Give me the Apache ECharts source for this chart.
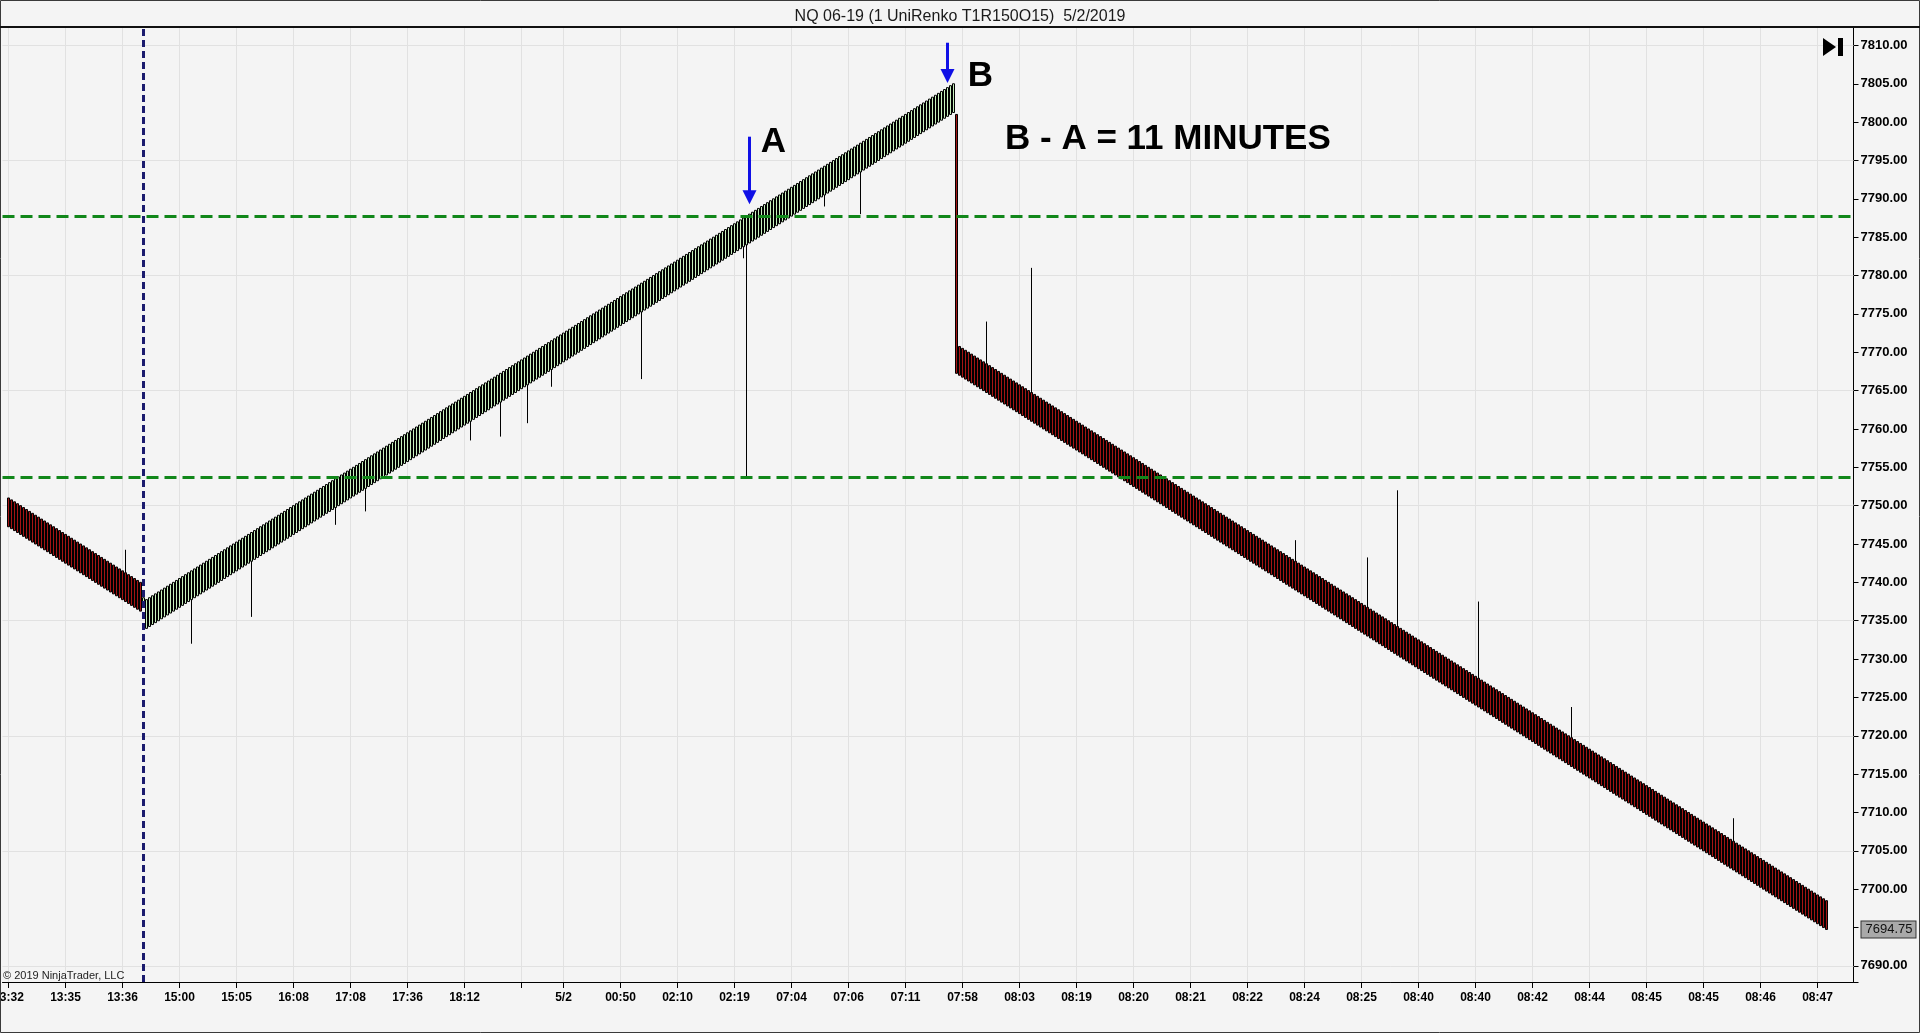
<!DOCTYPE html>
<html><head><meta charset="utf-8">
<script src="https://cdn.jsdelivr.net/npm/echarts@6/dist/echarts.min.js"></script>
<style>html,body{margin:0;padding:0;background:#f4f4f4;}#c{width:1920px;height:1033px;}</style>
</head><body><div id="c"></div>
<script>
// ---------------- DATA ----------------
// closes of the falling bricks before the reversal (bars 0..44)
const seg1Close = [
7747.25,7747,
7746.75,7746.5,7746.25,7746,7745.75,7745.5,7745.25,7745,
7744.75,7744.5,7744.25,7744,7743.75,7743.5,7743.25,7743,
7742.75,7742.5,7742.25,7742,7741.75,7741.5,7741.25,7741,
7740.75,7740.5,7740.25,7740,7739.75,7739.5,7739.25,7739,
7738.75,7738.5,7738.25,7738,7737.75,7737.5,7737.25,7737,
7736.75,7736.5,7736.25
];
// reversal bar (bar 45): open, close
const transBar = [7737.5, 7738];
// closes of the rising bricks (bars 46..315)
const seg2Close = [
7737.75,
7738,7738.25,7738.5,7738.75,7739,7739.25,7739.5,7739.75,
7740,7740.25,7740.5,7740.75,7741,7741.25,7741.5,7741.75,
7742,7742.25,7742.5,7742.75,7743,7743.25,7743.5,7743.75,
7744,7744.25,7744.5,7744.75,7745,7745.25,7745.5,7745.75,
7746,7746.25,7746.5,7746.75,7747,7747.25,7747.5,7747.75,
7748,7748.25,7748.5,7748.75,7749,7749.25,7749.5,7749.75,
7750,7750.25,7750.5,7750.75,7751,7751.25,7751.5,7751.75,
7752,7752.25,7752.5,7752.75,7753,7753.25,7753.5,7753.75,
7754,7754.25,7754.5,7754.75,7755,7755.25,7755.5,7755.75,
7756,7756.25,7756.5,7756.75,7757,7757.25,7757.5,7757.75,
7758,7758.25,7758.5,7758.75,7759,7759.25,7759.5,7759.75,
7760,7760.25,7760.5,7760.75,7761,7761.25,7761.5,7761.75,
7762,7762.25,7762.5,7762.75,7763,7763.25,7763.5,7763.75,
7764,7764.25,7764.5,7764.75,7765,7765.25,7765.5,7765.75,
7766,7766.25,7766.5,7766.75,7767,7767.25,7767.5,7767.75,
7768,7768.25,7768.5,7768.75,7769,7769.25,7769.5,7769.75,
7770,7770.25,7770.5,7770.75,7771,7771.25,7771.5,7771.75,
7772,7772.25,7772.5,7772.75,7773,7773.25,7773.5,7773.75,
7774,7774.25,7774.5,7774.75,7775,7775.25,7775.5,7775.75,
7776,7776.25,7776.5,7776.75,7777,7777.25,7777.5,7777.75,
7778,7778.25,7778.5,7778.75,7779,7779.25,7779.5,7779.75,
7780,7780.25,7780.5,7780.75,7781,7781.25,7781.5,7781.75,
7782,7782.25,7782.5,7782.75,7783,7783.25,7783.5,7783.75,
7784,7784.25,7784.5,7784.75,7785,7785.25,7785.5,7785.75,
7786,7786.25,7786.5,7786.75,7787,7787.25,7787.5,7787.75,
7788,7788.25,7788.5,7788.75,7789,7789.25,7789.5,7789.75,
7790,7790.25,7790.5,7790.75,7791,7791.25,7791.5,7791.75,
7792,7792.25,7792.5,7792.75,7793,7793.25,7793.5,7793.75,
7794,7794.25,7794.5,7794.75,7795,7795.25,7795.5,7795.75,
7796,7796.25,7796.5,7796.75,7797,7797.25,7797.5,7797.75,
7798,7798.25,7798.5,7798.75,7799,7799.25,7799.5,7799.75,
7800,7800.25,7800.5,7800.75,7801,7801.25,7801.5,7801.75,
7802,7802.25,7802.5,7802.75,7803,7803.25,7803.5,7803.75,
7804,7804.25,7804.5,7804.75,
7805
];
// the big reversal drop bar (bar 316): open, close
const dropBar = [7801, 7767.25];
// closes of the falling bricks after B (bars 317..606)
const seg3Close = [
7767,
7766.75,7766.5,7766.25,7766,7765.75,7765.5,7765.25,7765,
7764.75,7764.5,7764.25,7764,7763.75,7763.5,7763.25,7763,
7762.75,7762.5,7762.25,7762,7761.75,7761.5,7761.25,7761,
7760.75,7760.5,7760.25,7760,7759.75,7759.5,7759.25,7759,
7758.75,7758.5,7758.25,7758,7757.75,7757.5,7757.25,7757,
7756.75,7756.5,7756.25,7756,7755.75,7755.5,7755.25,7755,
7754.75,7754.5,7754.25,7754,7753.75,7753.5,7753.25,7753,
7752.75,7752.5,7752.25,7752,7751.75,7751.5,7751.25,7751,
7750.75,7750.5,7750.25,7750,7749.75,7749.5,7749.25,7749,
7748.75,7748.5,7748.25,7748,7747.75,7747.5,7747.25,7747,
7746.75,7746.5,7746.25,7746,7745.75,7745.5,7745.25,7745,
7744.75,7744.5,7744.25,7744,7743.75,7743.5,7743.25,7743,
7742.75,7742.5,7742.25,7742,7741.75,7741.5,7741.25,7741,
7740.75,7740.5,7740.25,7740,7739.75,7739.5,7739.25,7739,
7738.75,7738.5,7738.25,7738,7737.75,7737.5,7737.25,7737,
7736.75,7736.5,7736.25,7736,7735.75,7735.5,7735.25,7735,
7734.75,7734.5,7734.25,7734,7733.75,7733.5,7733.25,7733,
7732.75,7732.5,7732.25,7732,7731.75,7731.5,7731.25,7731,
7730.75,7730.5,7730.25,7730,7729.75,7729.5,7729.25,7729,
7728.75,7728.5,7728.25,7728,7727.75,7727.5,7727.25,7727,
7726.75,7726.5,7726.25,7726,7725.75,7725.5,7725.25,7725,
7724.75,7724.5,7724.25,7724,7723.75,7723.5,7723.25,7723,
7722.75,7722.5,7722.25,7722,7721.75,7721.5,7721.25,7721,
7720.75,7720.5,7720.25,7720,7719.75,7719.5,7719.25,7719,
7718.75,7718.5,7718.25,7718,7717.75,7717.5,7717.25,7717,
7716.75,7716.5,7716.25,7716,7715.75,7715.5,7715.25,7715,
7714.75,7714.5,7714.25,7714,7713.75,7713.5,7713.25,7713,
7712.75,7712.5,7712.25,7712,7711.75,7711.5,7711.25,7711,
7710.75,7710.5,7710.25,7710,7709.75,7709.5,7709.25,7709,
7708.75,7708.5,7708.25,7708,7707.75,7707.5,7707.25,7707,
7706.75,7706.5,7706.25,7706,7705.75,7705.5,7705.25,7705,
7704.75,7704.5,7704.25,7704,7703.75,7703.5,7703.25,7703,
7702.75,7702.5,7702.25,7702,7701.75,7701.5,7701.25,7701,
7700.75,7700.5,7700.25,7700,7699.75,7699.5,7699.25,7699,
7698.75,7698.5,7698.25,7698,7697.75,7697.5,7697.25,7697,
7696.75,7696.5,7696.25,7696,7695.75,7695.5,7695.25,7695,
7694.75
];
// UniRenko open offset (O15 = 15 ticks of 0.25)
const openOffset = 3.75;
// wicks
const upperWickBars  = [39, 326, 341, 429, 453, 463, 490, 521, 575];
const upperWickHighs = [7744.25, 7774, 7781, 7745.5, 7743.25, 7752, 7737.5, 7723.75, 7709.25];
const lowerWickBars  = [61, 81, 109, 119, 154, 164, 173, 181, 211, 245, 246, 272, 284];
const lowerWickLows  = [7732, 7735.5, 7747.5, 7749.25, 7758.5, 7759, 7760.75, 7765.5, 7766.5, 7782.25, 7753.75, 7789, 7788];
// time axis ticks (bar index -> label)
const tickBars = [0,19,38,57,76,95,114,133,152,171,185,204,223,242,261,280,299,318,337,356,375,394,413,432,451,470,489,508,527,546,565,584,603];
const tickLabels = ['13:32','13:35','13:36','15:00','15:05','16:08','17:08','17:36','18:12','','5/2','00:50','02:10','02:19','07:04','07:06','07:11','07:58','08:03','08:19','08:20','08:21','08:22','08:24','08:25','08:40','08:40','08:42','08:44','08:45','08:45','08:46','08:47'];
// horizontal grid levels
const hGridLevels = [7690, 7705, 7720, 7735, 7750, 7765, 7780, 7795, 7810];
const zoneLevels = [7787.75, 7753.75];
const lastPrice = 7694.75;
const markerBar = 45;          // dashed vertical line
const arrowA = {bar: 247, from: 7798.1, to: 7790.2};
const arrowB = {bar: 313, from: 7810.35, to: 7806.0};
const textA = {bar: 255, price: 7797.3, text: 'A'};
const textB = {bar: 324, price: 7806.0, text: 'B'};
const textBA = {bar: 332, price: 7797.7, text: 'B - A = 11 MINUTES'};

// ---------------- BUILD ----------------
const LEAD = 2, NCAT = 618;
const cats = Array.from({length: NCAT}, (_, i) => String(i));
const cat = b => String(b + LEAD);
const oc = [];
seg1Close.forEach(c => oc.push([c + openOffset, c]));
oc.push(transBar);
seg2Close.forEach(c => oc.push([c - openOffset, c]));
oc.push(dropBar);
seg3Close.forEach(c => oc.push([c + openOffset, c]));
const lows = oc.map(v => Math.min(v[0], v[1]));
const highs = oc.map(v => Math.max(v[0], v[1]));
upperWickBars.forEach((b, i) => { highs[b] = upperWickHighs[i]; });
lowerWickBars.forEach((b, i) => { lows[b] = lowerWickLows[i]; });
const candles = oc.map((v, b) => [b + LEAD, v[0], v[1], lows[b], highs[b]]);
const tickMap = {};
tickBars.forEach((b, i) => { tickMap[b + LEAD] = tickLabels[i]; });
const isTick = i => Object.prototype.hasOwnProperty.call(tickMap, i);

const SANS = "'Liberation Sans', Arial, sans-serif";

const chart = echarts.init(document.getElementById('c'), null, {renderer: 'canvas'});
chart.setOption({
  backgroundColor: '#f4f4f4',
  animation: false,
  title: {
    text: 'NQ 06-19 (1 UniRenko T1R150O15)  5/2/2019',
    left: 955, textAlign: 'center', top: 4,
    textStyle: {fontFamily: SANS, fontSize: 16, fontWeight: 'normal', color: '#1a1a1a'}
  },
  grid: {left: 2.5, top: 27, width: 1851, height: 955, containLabel: false, outerBoundsMode: 'none'},
  xAxis: {
    type: 'category', data: cats, boundaryGap: false,
    axisLine: {lineStyle: {color: '#000', width: 1}},
    axisTick: {interval: isTick, length: 6, lineStyle: {color: '#000'}},
    axisLabel: {
      interval: isTick, formatter: (v) => tickMap[+v] || '',
      hideOverlap: false,
      fontFamily: SANS, fontWeight: 'bold', fontSize: 12, color: '#000', margin: 10
    },
    splitLine: {show: true, interval: isTick, lineStyle: {color: '#e1e1e1', width: 1}}
  },
  yAxis: {
    type: 'value', position: 'right', min: 7687.9, max: 7812.4,
    minInterval: 5, maxInterval: 5,
    axisLine: {show: true, lineStyle: {color: '#000', width: 1}},
    axisTick: {show: true, length: 5, lineStyle: {color: '#000'}},
    axisLabel: {
      formatter: v => (Math.abs(v / 5 - Math.round(v / 5)) < 1e-6 && Math.abs(v - lastPrice) > 2 ? v.toFixed(2) : ''),
      fontFamily: SANS, fontWeight: 'bold', fontSize: 13, color: '#000', margin: 7
    },
    splitLine: {show: false}
  },
  graphic: [
    {type: 'rect', silent: true, z: 100, shape: {x: 0.5, y: 0.5, width: 1919, height: 1032}, style: {fill: 'none', stroke: '#3a3a3a', lineWidth: 1}},
    {type: 'line', silent: true, z: 100, shape: {x1: 0, y1: 27, x2: 1920, y2: 27}, style: {stroke: '#111', lineWidth: 2}},
    {type: 'polygon', silent: true, z: 100, shape: {points: [[1823, 38], [1836, 47], [1823, 56]]}, style: {fill: '#000'}},
    {type: 'rect', silent: true, z: 100, shape: {x: 1838, y: 38, width: 5, height: 18}, style: {fill: '#000'}},
    {type: 'text', silent: true, z: 100, left: 3, top: 970, style: {text: '\u00a9 2019 NinjaTrader, LLC', font: "11px " + SANS, fill: '#222'}}
  ],
  series: [
    {
      type: 'line', data: [], silent: true, z: 1,
      markLine: {
        silent: true, symbol: ['none', 'none'], z: 1, label: {show: false},
        lineStyle: {color: '#e1e1e1', width: 1, type: 'solid'},
        data: hGridLevels.map(v => ({yAxis: v}))
      }
    },
    {
      type: 'line', data: [], silent: true, z: 6,
      markLine: {
        silent: true, z: 6, animation: false, symbol: ['none', 'none'],
        lineStyle: {width: 0, color: '#a9a9a9', type: 'solid'},
        label: {show: true, position: 'end', distance: 8, formatter: lastPrice.toFixed(2),
                backgroundColor: '#a9a9a9', borderColor: '#333', borderWidth: 1, padding: [2, 3, 1, 4],
                color: '#111', fontFamily: SANS, fontSize: 13},
        data: [{yAxis: lastPrice}]
      }
    },
    {
      type: 'candlestick', z: 3, large: false, silent: true, barWidth: 2,
      encode: {x: 0, y: [1, 2, 3, 4]},
      data: candles,
      itemStyle: {color: '#c8f0be', color0: '#a41414', borderColor: '#000', borderColor0: '#000', borderColorDoji: '#000', borderWidth: 1},
      emphasis: {disabled: true},
      markLine: {
        silent: true, symbol: ['none', 'none'], z: 5, animation: false,
        label: {show: false},
        data: [
          ...zoneLevels.map(v => ({yAxis: v, lineStyle: {color: '#11871a', width: 3, type: [12, 6]}})),
          {xAxis: cat(markerBar), lineStyle: {color: '#1b1b6e', width: 3, type: [7, 4]}},
          [
            {coord: [cat(arrowA.bar), arrowA.from], symbol: 'none', lineStyle: {color: '#1010e6', width: 3, type: 'solid'}},
            {coord: [cat(arrowA.bar), arrowA.to], symbol: 'triangle', symbolSize: 14, lineStyle: {color: '#1010e6', width: 3, type: 'solid'}}
          ],
          [
            {coord: [cat(arrowB.bar), arrowB.from], symbol: 'none', lineStyle: {color: '#1010e6', width: 3, type: 'solid'}},
            {coord: [cat(arrowB.bar), arrowB.to], symbol: 'triangle', symbolSize: 14, lineStyle: {color: '#1010e6', width: 3, type: 'solid'}}
          ]
        ]
      },
      markPoint: {
        silent: true, symbol: 'circle', symbolSize: 1, itemStyle: {color: 'rgba(0,0,0,0)'},
        label: {show: true, color: '#000', fontFamily: SANS, fontSize: 35, fontWeight: 'bold'},
        data: [
          {coord: [cat(textA.bar), textA.price], label: {formatter: textA.text, position: 'inside'}},
          {coord: [cat(textB.bar), textB.price], label: {formatter: textB.text, position: 'inside'}},
          {coord: [cat(textBA.bar), textBA.price], label: {formatter: textBA.text, position: 'right', distance: 0}}
        ]
      }
    }
  ]
});
</script></body></html>
